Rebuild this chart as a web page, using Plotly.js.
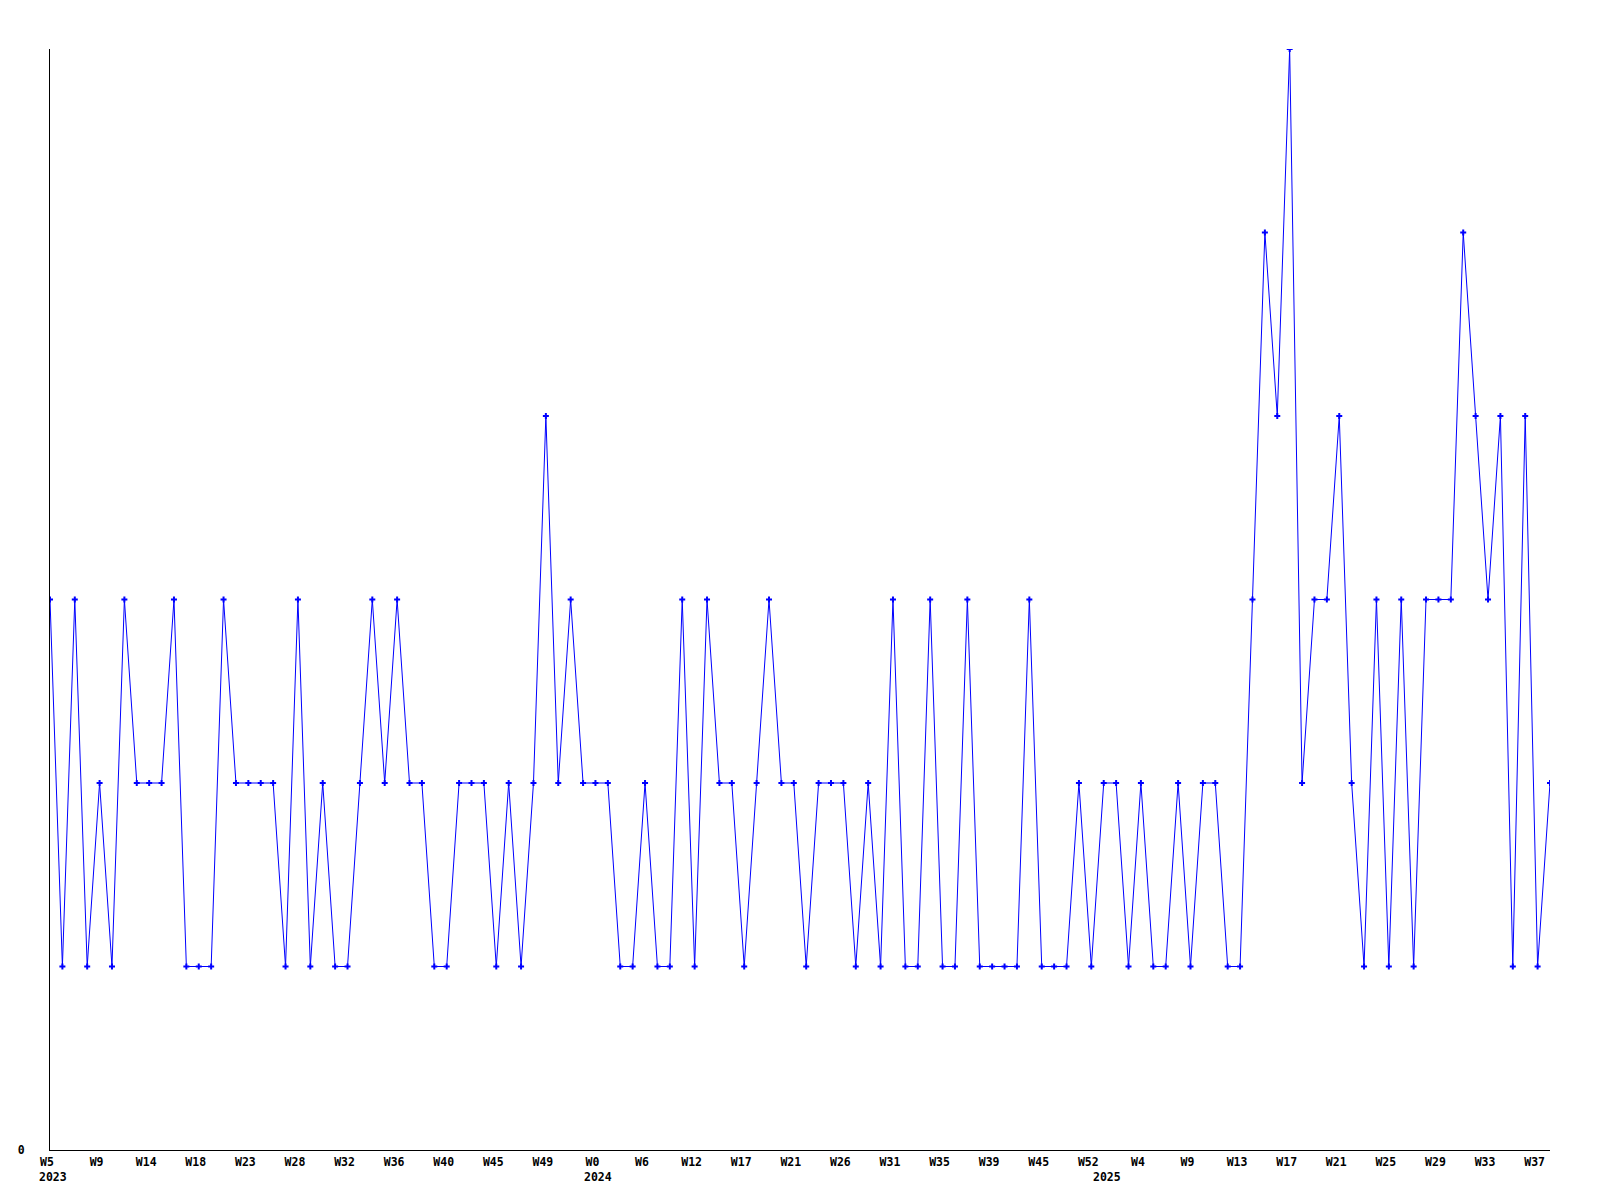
<!DOCTYPE html>
<html>
<head>
<meta charset="utf-8">
<script src="https://cdn.plot.ly/plotly-3.0.1.min.js"></script>
<style>
  html, body { margin: 0; padding: 0; background: #ffffff; }
  #chart { width: 1600px; height: 1200px; }
</style>
</head>
<body>
<div id="chart"></div>
<script>
// Weekly counts, one per point
const values = [
  3, 1, 3, 1, 2, 1, 3, 2, 2, 2,
  3, 1, 1, 1, 3, 2, 2, 2, 2, 1,
  3, 1, 2, 1, 1, 2, 3, 2, 3, 2,
  2, 1, 1, 2, 2, 2, 1, 2, 1, 2,
  4, 2, 3, 2, 2, 2, 1, 1, 2, 1,
  1, 3, 1, 3, 2, 2, 1, 2, 3, 2,
  2, 1, 2, 2, 2, 1, 2, 1, 3, 1,
  1, 3, 1, 1, 3, 1, 1, 1, 1, 3,
  1, 1, 1, 2, 1, 2, 2, 1, 2, 1,
  1, 2, 1, 2, 2, 1, 1, 3, 5, 4,
  6, 2, 3, 3, 4, 2, 1, 3, 1, 3,
  1, 3, 3, 3, 5, 4, 3, 4, 1, 4,
  1, 2
];

// Week labels shown under every 4th point
const weekLabels = [
  'W5', 'W9', 'W14', 'W18', 'W23', 'W28', 'W32', 'W36', 'W40', 'W45', 'W49',
  'W0', 'W6', 'W12', 'W17', 'W21', 'W26', 'W31', 'W35', 'W39', 'W45', 'W52',
  'W4', 'W9', 'W13', 'W17', 'W21', 'W25', 'W29', 'W33', 'W37'
];

// Year labels and the point at which each year begins
const yearLabels = ['2023', '2024', '2025'];
const yearStartPoint = [0, 44, 85];

const labelEvery = 4;

const xs = values.map((_, i) => i);
const tickVals = weekLabels.map((_, i) => i * labelEvery);

const font = { family: '"DejaVu Sans Mono", "Liberation Mono", monospace', size: 11.5, color: '#000000', weight: 'bold' };

const trace = {
  type: 'scatter',
  mode: 'lines+markers',
  x: xs,
  y: values,
  line: { color: '#0000ff', width: 1 },
  marker: { symbol: 'cross', size: 5, color: '#0000ff', line: { width: 0 } },
  hoverinfo: 'skip'
};

const annotations = yearLabels.map((t, i) => ({
  x: yearStartPoint[i],
  y: 0,
  xref: 'x',
  yref: 'paper',
  text: t,
  showarrow: false,
  xanchor: 'center',
  yanchor: 'top',
  xshift: 3,
  yshift: -18,
  font: font
}));

const layout = {
  width: 1600,
  height: 1200,
  paper_bgcolor: '#ffffff',
  plot_bgcolor: '#ffffff',
  showlegend: false,
  margin: { l: 50, r: 50, t: 49, b: 50, pad: 0 },
  xaxis: {
    range: [0, values.length - 1],
    showgrid: false,
    zeroline: false,
    showline: true,
    linecolor: '#000000',
    linewidth: 1,
    ticks: '',
    tickmode: 'array',
    tickvals: tickVals,
    ticktext: weekLabels,
    tickangle: 0,
    tickfont: font,
    ticklabelstandoff: 1,
    ticklabelshift: -3,
    fixedrange: true
  },
  yaxis: {
    range: [0, 6],
    showgrid: false,
    zeroline: false,
    showline: true,
    linecolor: '#000000',
    linewidth: 1,
    ticks: '',
    tickmode: 'array',
    tickvals: [0],
    ticktext: ['0'],
    tickfont: font,
    ticklabelstandoff: 22,
    fixedrange: true
  },
  annotations: annotations
};

Plotly.newPlot('chart', [trace], layout, { displayModeBar: false, staticPlot: true });
</script>
</body>
</html>
